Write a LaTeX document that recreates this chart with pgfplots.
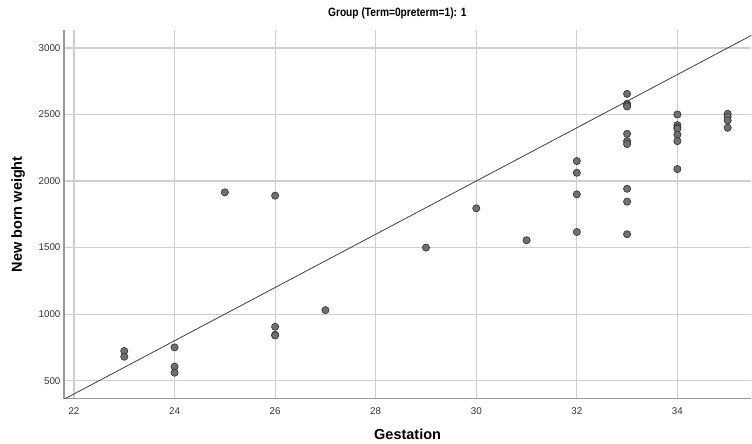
\documentclass[border=0pt]{standalone}
\usepackage{fontspec}
\setmainfont{Liberation Sans}
\setsansfont{Liberation Sans}
\usepackage{pgfplots}
\pgfplotsset{compat=1.18}
\definecolor{gridc}{HTML}{CFCFCF}
\definecolor{axc}{HTML}{9A9A9A}
\definecolor{mfill}{HTML}{707070}
\definecolor{mdraw}{HTML}{3A3A3A}
\definecolor{tickc}{HTML}{333333}
\begin{document}
\begin{tikzpicture}
\path (-64pt,-44pt) rectangle (688pt,399pt);
\begin{axis}[
  at={(0pt,0pt)}, anchor=south west,
  scale only axis, width=688pt, height=369pt,
  xmin=21.80, xmax=35.47, ymin=365, ymax=3135,
  xtick={22,24,...,36}, ytick={500,1000,...,3000},
  grid=major,
  major grid style={gridc, line width=1.2pt},
  axis x line*=bottom, axis y line*=left,
  axis line style={axc, line width=1.4pt},
  x axis line style={-}, y axis line style={-},
  tick style={draw=none},
  /pgf/number format/assume math mode=true,
  /pgf/number format/1000 sep={},
  tick label style={font=\fontsize{9.8}{11}\selectfont, text=tickc},
  xticklabel style={yshift=-6pt},
  yticklabel style={xshift=0pt},
  xlabel={\bfseries Gestation},
  ylabel={\bfseries New born weight},
  label style={font=\fontsize{14.5}{16}\selectfont},
  xlabel style={at={(axis description cs:0.5,0)}, anchor=base, yshift=-41pt},
  ylabel style={at={(axis description cs:0,0.5)}, anchor=base, yshift=42pt},
  title={\bfseries Group (Term=0preterm=1): 1},
  title style={font=\fontsize{12}{13}\selectfont\addfontfeature{FakeStretch=0.85}, at={(axis description cs:0.485,1)}, anchor=base, yshift=7pt},
  clip=true,
]
\addplot[no marks, black!75, line width=0.8pt] coordinates {(21.8,360) (35.5,3100)};
\addplot[only marks, mark=*, mark size=3.6pt, mark options={fill=mfill, draw=mdraw, line width=0.7pt}] coordinates {
(23,723) (23,680)
(24,750) (24,605) (24,560)
(25,1915)
(26,1890) (26,905) (26,845) (26,840)
(27,1030)
(29,1500)
(30,1795)
(31,1555)
(32,2150) (32,2062) (32,1900) (32,1617)
(33,2655) (33,2580) (33,2570) (33,2560) (33,2355) (33,2300) (33,2278) (33,1942) (33,1845) (33,1600)
(34,2500) (34,2420) (34,2403) (34,2393) (34,2348) (34,2300) (34,2090)
(35,2505) (35,2483) (35,2455) (35,2400)
};
\end{axis}
\end{tikzpicture}
\end{document}
